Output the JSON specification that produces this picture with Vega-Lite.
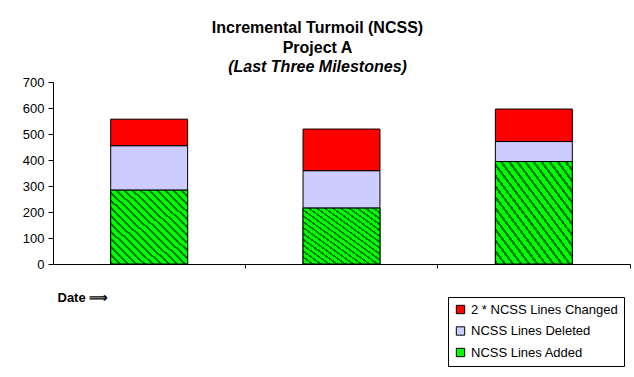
{
  "$schema": "https://vega.github.io/schema/vega-lite/v6.json",
  "width": 577,
  "height": 182,
  "autosize": {"type": "none"},
  "padding": {"left": 53, "top": 82, "right": 4, "bottom": 113},
  "background": "white",
  "config": {
    "view": {"stroke": null},
    "font": "Liberation Sans"
  },
  "title": {
    "text": ["Incremental Turmoil (NCSS)", "Project A"],
    "subtitle": "(Last Three Milestones)",
    "font": "Liberation Sans",
    "fontSize": 16,
    "fontWeight": "bold",
    "color": "black",
    "lineHeight": 20,
    "subtitleFont": "Liberation Sans",
    "subtitleFontSize": 16,
    "subtitleFontWeight": "bold",
    "subtitleFontStyle": "italic",
    "subtitleColor": "black",
    "subtitleLineHeight": 20,
    "subtitlePadding": 3,
    "anchor": "middle",
    "dx": -24,
    "offset": 1
  },
  "data": {
    "values": [
      {"milestone": "M1", "series": "NCSS Lines Added", "value": 284, "idx": 1},
      {"milestone": "M1", "series": "NCSS Lines Deleted", "value": 171, "idx": 2},
      {"milestone": "M1", "series": "2 * NCSS Lines Changed", "value": 102, "idx": 3},
      {"milestone": "M2", "series": "NCSS Lines Added", "value": 215, "idx": 1},
      {"milestone": "M2", "series": "NCSS Lines Deleted", "value": 144, "idx": 2},
      {"milestone": "M2", "series": "2 * NCSS Lines Changed", "value": 160, "idx": 3},
      {"milestone": "M3", "series": "NCSS Lines Added", "value": 394, "idx": 1},
      {"milestone": "M3", "series": "NCSS Lines Deleted", "value": 77, "idx": 2},
      {"milestone": "M3", "series": "2 * NCSS Lines Changed", "value": 125, "idx": 3}
    ]
  },
  "encoding": {
    "x": {
      "field": "milestone",
      "type": "nominal",
      "scale": {"paddingInner": 0, "paddingOuter": 0},
      "axis": {
        "labels": false,
        "tickSize": 4,
        "bandPosition": 1,
        "domainColor": "black",
        "tickColor": "black",
        "title": "Date ⟹",
        "titleFont": "Liberation Sans",
        "titleFontSize": 13,
        "titleFontWeight": "bold",
        "titleColor": "black",
        "titleAlign": "left",
        "titleBaseline": "middle",
        "titleX": 4,
        "titleY": 33
      }
    },
    "y": {
      "field": "value",
      "type": "quantitative",
      "scale": {"domain": [0, 700], "nice": false},
      "axis": {
        "values": [0, 100, 200, 300, 400, 500, 600, 700],
        "grid": false,
        "title": null,
        "labelFont": "Liberation Sans",
        "labelFontSize": 13,
        "labelColor": "black",
        "labelPadding": 4,
        "tickSize": 5,
        "tickColor": "black",
        "domainColor": "black"
      }
    }
  },
  "layer": [
    {
      "mark": {"type": "bar", "width": {"band": 0.4}, "stroke": "black", "strokeWidth": 1, "opacity": 1},
      "encoding": {
        "y": {"field": "value", "type": "quantitative", "stack": "zero"},
        "color": {
          "field": "series",
          "type": "nominal",
          "scale": {
            "domain": ["2 * NCSS Lines Changed", "NCSS Lines Deleted", "NCSS Lines Added"],
            "range": ["#FF0000", "#CCCCFF", "#00FF00"]
          },
          "legend": {
            "title": null,
            "orient": "none",
            "legendX": 395,
            "legendY": 215,
            "padding": 6,
            "strokeColor": "black",
            "fillColor": "white",
            "symbolType": "square",
            "symbolSize": 70,
            "symbolStrokeColor": "black",
            "symbolStrokeWidth": 1,
            "symbolOpacity": 1,
            "labelFont": "Liberation Sans",
            "labelFontSize": 13,
            "labelColor": "black",
            "labelOffset": 4,
            "rowPadding": 7.5
          }
        },
        "order": {"field": "idx", "type": "quantitative"}
      }
    },
    {
      "transform": [{"filter": "datum.series === 'NCSS Lines Added'"}],
      "mark": {
        "type": "bar",
        "width": {"band": 0.4},
        "stroke": "black",
        "strokeWidth": 1,
        "fill": {
          "gradient": "linear",
          "x1": 0, "y1": 1, "x2": 1, "y2": 0,
          "stops": [
            {"offset": 0.0, "color": "#008000"}, {"offset": 0.01974, "color": "#008000"}, {"offset": 0.01974, "color": "#00FF00"}, {"offset": 0.05263, "color": "#00FF00"},
            {"offset": 0.05263, "color": "#008000"}, {"offset": 0.07237, "color": "#008000"}, {"offset": 0.07237, "color": "#00FF00"}, {"offset": 0.10526, "color": "#00FF00"},
            {"offset": 0.10526, "color": "#008000"}, {"offset": 0.125, "color": "#008000"}, {"offset": 0.125, "color": "#00FF00"}, {"offset": 0.15789, "color": "#00FF00"},
            {"offset": 0.15789, "color": "#008000"}, {"offset": 0.17763, "color": "#008000"}, {"offset": 0.17763, "color": "#00FF00"}, {"offset": 0.21053, "color": "#00FF00"},
            {"offset": 0.21053, "color": "#008000"}, {"offset": 0.23026, "color": "#008000"}, {"offset": 0.23026, "color": "#00FF00"}, {"offset": 0.26316, "color": "#00FF00"},
            {"offset": 0.26316, "color": "#008000"}, {"offset": 0.28289, "color": "#008000"}, {"offset": 0.28289, "color": "#00FF00"}, {"offset": 0.31579, "color": "#00FF00"},
            {"offset": 0.31579, "color": "#008000"}, {"offset": 0.33553, "color": "#008000"}, {"offset": 0.33553, "color": "#00FF00"}, {"offset": 0.36842, "color": "#00FF00"},
            {"offset": 0.36842, "color": "#008000"}, {"offset": 0.38816, "color": "#008000"}, {"offset": 0.38816, "color": "#00FF00"}, {"offset": 0.42105, "color": "#00FF00"},
            {"offset": 0.42105, "color": "#008000"}, {"offset": 0.44079, "color": "#008000"}, {"offset": 0.44079, "color": "#00FF00"}, {"offset": 0.47368, "color": "#00FF00"},
            {"offset": 0.47368, "color": "#008000"}, {"offset": 0.49342, "color": "#008000"}, {"offset": 0.49342, "color": "#00FF00"}, {"offset": 0.52632, "color": "#00FF00"},
            {"offset": 0.52632, "color": "#008000"}, {"offset": 0.54605, "color": "#008000"}, {"offset": 0.54605, "color": "#00FF00"}, {"offset": 0.57895, "color": "#00FF00"},
            {"offset": 0.57895, "color": "#008000"}, {"offset": 0.59868, "color": "#008000"}, {"offset": 0.59868, "color": "#00FF00"}, {"offset": 0.63158, "color": "#00FF00"},
            {"offset": 0.63158, "color": "#008000"}, {"offset": 0.65132, "color": "#008000"}, {"offset": 0.65132, "color": "#00FF00"}, {"offset": 0.68421, "color": "#00FF00"},
            {"offset": 0.68421, "color": "#008000"}, {"offset": 0.70395, "color": "#008000"}, {"offset": 0.70395, "color": "#00FF00"}, {"offset": 0.73684, "color": "#00FF00"},
            {"offset": 0.73684, "color": "#008000"}, {"offset": 0.75658, "color": "#008000"}, {"offset": 0.75658, "color": "#00FF00"}, {"offset": 0.78947, "color": "#00FF00"},
            {"offset": 0.78947, "color": "#008000"}, {"offset": 0.80921, "color": "#008000"}, {"offset": 0.80921, "color": "#00FF00"}, {"offset": 0.84211, "color": "#00FF00"},
            {"offset": 0.84211, "color": "#008000"}, {"offset": 0.86184, "color": "#008000"}, {"offset": 0.86184, "color": "#00FF00"}, {"offset": 0.89474, "color": "#00FF00"},
            {"offset": 0.89474, "color": "#008000"}, {"offset": 0.91447, "color": "#008000"}, {"offset": 0.91447, "color": "#00FF00"}, {"offset": 0.94737, "color": "#00FF00"},
            {"offset": 0.94737, "color": "#008000"}, {"offset": 0.96711, "color": "#008000"}, {"offset": 0.96711, "color": "#00FF00"}, {"offset": 1.0, "color": "#00FF00"}
          ]
        }
      },
      "encoding": {
        "y": {"field": "value", "type": "quantitative", "stack": null}
      }
    }
  ]
}
